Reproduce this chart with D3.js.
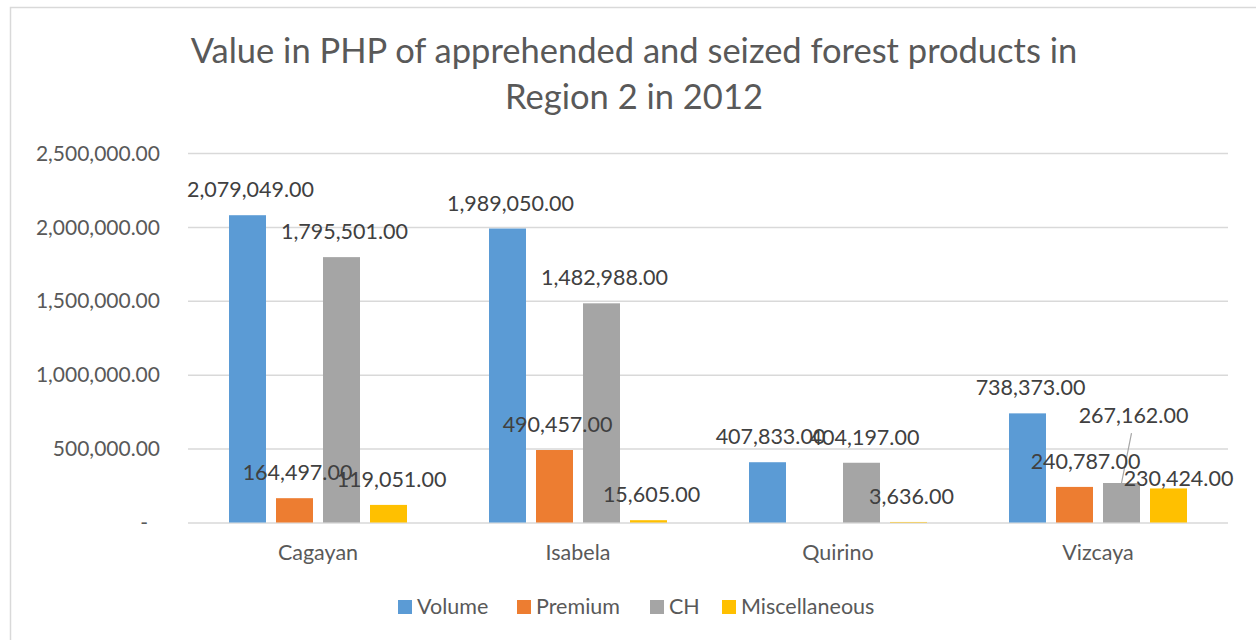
<!DOCTYPE html>
<html>
<head>
<meta charset="utf-8">
<script src="https://cdn.jsdelivr.net/npm/d3@7"></script>
<style>
  html, body { margin: 0; padding: 0; background: #fff; }
  svg { display: block; }
  text { font-family: Lato, "Open Sans", sans-serif; }
</style>
</head>
<body>
<svg id="chart" width="1256" height="640"></svg>
<script>
// Provinces of Region 2 and the four kinds of seized forest products
const provinces = ["Cagayan", "Isabela", "Quirino", "Vizcaya"];
const seriesNames = ["Volume", "Premium", "CH", "Miscellaneous"];
const seriesColors = ["#5B9BD5", "#ED7D31", "#A5A5A5", "#FFC000"];

// Value in PHP, one array per product kind, ordered like provinces
const volume = [2079049, 1989050, 407833, 738373];
const premium = [164497, 490457, 0, 240787];
const ch = [1795501, 1482988, 404197, 267162];
const miscellaneous = [119051, 15605, 3636, 230424];

const yTicks = [0, 500000, 1000000, 1500000, 2000000, 2500000];
const titleLines = ["Value in PHP of apprehended and seized forest products in", "Region 2 in 2012"];

// Labels that were nudged away from their neighbours: [province, series, dx, dy]
const labelNudges = [
  ["Vizcaya", "Premium", 8, 0],
  ["Vizcaya", "CH", 9, -42],
  ["Vizcaya", "Miscellaneous", 7, 16]
];

const seriesValues = [volume, premium, ch, miscellaneous];

const svg = d3.select("#chart");

// chart frame
svg.append("rect")
  .attr("x", 10.5).attr("y", 7.5)
  .attr("width", 1260).attr("height", 650)
  .attr("fill", "#fff").attr("stroke", "#d9d9d9").attr("stroke-width", 1.5);

const plot = { left: 188, right: 1228, top: 153, bottom: 522.5 };

const x0 = d3.scaleBand().domain(provinces).range([plot.left, plot.right]).padding(0);
const x1 = d3.scaleBand().domain(seriesNames)
  .range([41, x0.bandwidth() - 41]).paddingInner(10 / 47).paddingOuter(0);
const y = d3.scaleLinear().domain([0, 2500000]).range([plot.bottom, plot.top]);

// gridlines and y labels through a left axis
const fmt = d3.format(",.2f");
const yAxis = d3.axisLeft(y)
  .tickValues(yTicks)
  .tickSize(-(plot.right - plot.left))
  .tickPadding(28)
  .tickFormat(d => d === 0 ? "-" : fmt(d));

const yG = svg.append("g")
  .attr("transform", `translate(${plot.left},0)`)
  .call(yAxis);
yG.select(".domain").remove();
yG.selectAll(".tick line").attr("stroke", "#d9d9d9").attr("stroke-width", 1.5);
yG.selectAll(".tick text")
  .attr("fill", "#595959")
  .style("font-size", "21px")
  .style("font-family", "Lato, sans-serif")
  .attr("dy", "0.34em")
  .attr("dx", d => d === 0 ? -12 : 0);

// bars
const data = [];
provinces.forEach((p, i) => {
  seriesNames.forEach((s, j) => {
    data.push({ province: p, series: s, value: seriesValues[j][i], color: seriesColors[j] });
  });
});

svg.append("g").selectAll("rect.bar")
  .data(data.filter(d => d.value > 0))
  .join("rect")
  .attr("class", "bar")
  .attr("x", d => x0(d.province) + x1(d.series))
  .attr("y", d => y(d.value))
  .attr("width", x1.bandwidth())
  .attr("height", d => y(0) - y(d.value))
  .attr("fill", d => d.color);

// value labels
const nudge = d => {
  const n = labelNudges.find(k => k[0] === d.province && k[1] === d.series);
  return n ? { dx: n[2], dy: n[3] } : { dx: 0, dy: 0 };
};
const labelled = data.filter(d => d.value > 0);
labelled.forEach(d => {
  const cx = x0(d.province) + x1(d.series) + x1.bandwidth() / 2;
  const n = nudge(d);
  d.lx = cx + 3 + n.dx;
  d.ly = y(d.value) - 18 + n.dy;
  d.cx = cx;
});

// leader line for the label lifted well above its bar
labelled.filter(d => nudge(d).dy < -20).forEach(d => {
  svg.append("line")
    .attr("x1", d.lx - 2).attr("y1", d.ly + 10)
    .attr("x2", d.cx).attr("y2", y(d.value))
    .attr("stroke", "#a6a6a6").attr("stroke-width", 1.2);
});

svg.append("g").selectAll("text")
  .data(labelled)
  .join("text")
  .attr("x", d => d.lx)
  .attr("y", d => d.ly)
  .attr("text-anchor", "middle")
  .attr("fill", "#404040")
  .style("font-size", "21.5px")
  .text(d => fmt(d.value));

// category labels
svg.append("g").selectAll("text")
  .data(provinces)
  .join("text")
  .attr("x", d => x0(d) + x0.bandwidth() / 2)
  .attr("y", 560)
  .attr("text-anchor", "middle")
  .attr("fill", "#595959")
  .style("font-size", "21.5px")
  .text(d => d);

// title
svg.append("g").selectAll("text")
  .data(titleLines)
  .join("text")
  .attr("x", 634)
  .attr("y", (d, i) => 63 + i * 46)
  .attr("text-anchor", "middle")
  .attr("fill", "#595959")
  .style("font-size", "34.5px")
  .text(d => d);

// legend
const legendX = [398, 517, 650, 722];
const legend = svg.append("g").selectAll("g")
  .data(seriesNames)
  .join("g")
  .attr("transform", (d, i) => `translate(${legendX[i]},600)`);
legend.append("rect")
  .attr("width", 14).attr("height", 14)
  .attr("fill", (d, i) => seriesColors[i]);
legend.append("text")
  .attr("x", 19).attr("y", 13.5)
  .attr("fill", "#595959")
  .style("font-size", "21.5px")
  .text(d => d);
</script>
</body>
</html>
